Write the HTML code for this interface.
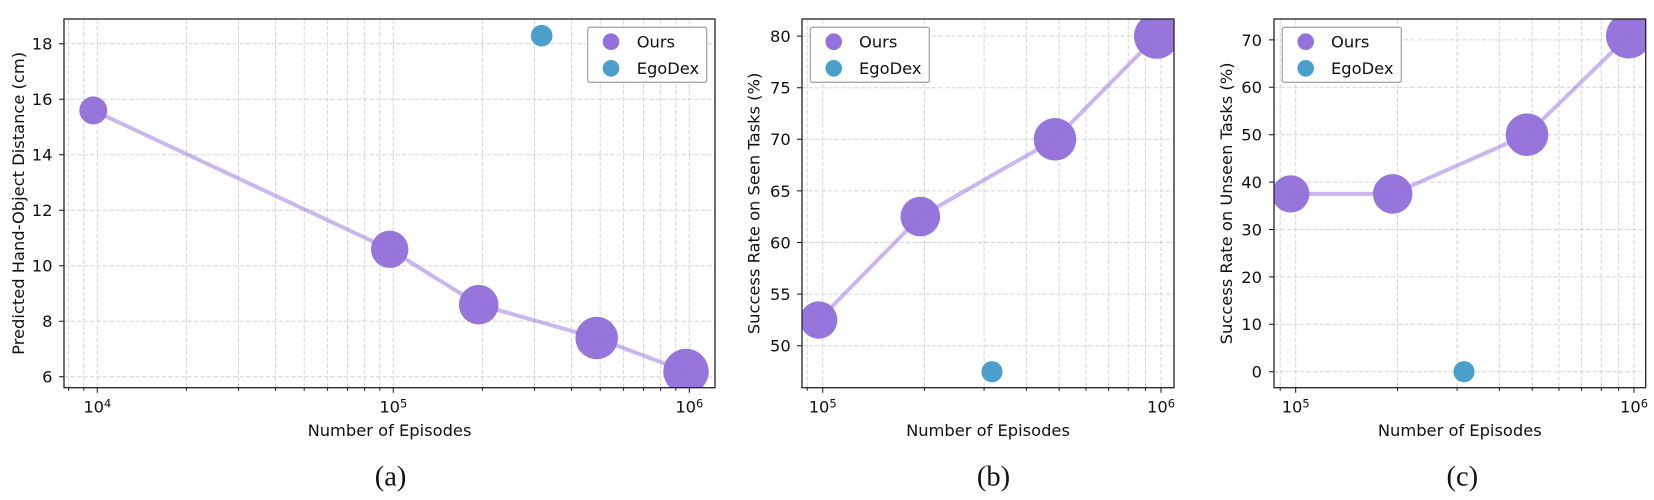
<!DOCTYPE html>
<html><head><meta charset="utf-8"><style>
html,body{margin:0;padding:0;background:#fff;}
svg{display:block;}
text{font-family:"DejaVu Sans","Liberation Sans",sans-serif;fill:#111;}
.t{font-size:16.3px;}
.cap{font-family:"Liberation Serif","DejaVu Serif",serif;font-size:28.5px;fill:#111;}
</style></head><body>
<svg width="1654" height="500" viewBox="0 0 1654 500" xmlns="http://www.w3.org/2000/svg">
<defs>
<clipPath id="ca"><rect x="64" y="19" width="651" height="368.7"/></clipPath>
<clipPath id="cb"><rect x="802" y="19" width="372" height="368.7"/></clipPath>
<clipPath id="cc"><rect x="1274" y="19" width="371.7" height="368.7"/></clipPath>
</defs>
<rect width="1654" height="500" fill="#fff"/>

<!-- ===== Panel (a) ===== -->
<g stroke="#d6d6d6" stroke-width="1" stroke-dasharray="4.5,2" fill="none">
<path d="M68.6 19V387.7M83.8 19V387.7M97.3 19V387.7M186.4 19V387.7M238.5 19V387.7M275.5 19V387.7M304.2 19V387.7M327.6 19V387.7M347.5 19V387.7M364.6 19V387.7M379.8 19V387.7M393.3 19V387.7M482.4 19V387.7M534.5 19V387.7M571.5 19V387.7M600.2 19V387.7M623.6 19V387.7M643.5 19V387.7M660.6 19V387.7M675.8 19V387.7M689.3 19V387.7"/>
<path d="M64 376.8H715M64 321.3H715M64 265.8H715M64 210.3H715M64 154.8H715M64 99.3H715M64 43.8H715"/>
</g>
<g clip-path="url(#ca)">
<g fill="#9370DB" fill-opacity="0.96">
<circle cx="93.3" cy="110.4" r="14"/>
<circle cx="389.7" cy="249.3" r="18.7"/>
<circle cx="478.7" cy="304.7" r="19.8"/>
<circle cx="596.7" cy="338" r="21.3"/>
<circle cx="686" cy="371.5" r="22.7"/>
</g>
<polyline points="93.3,110.4 389.7,249.3 478.7,304.7 596.7,338 686,371.5" fill="none" stroke="#9370DB" stroke-opacity="0.5" stroke-width="4" stroke-linecap="round" stroke-linejoin="round"/>
<circle cx="541.7" cy="35.7" r="10.8" fill="#4b9fcb"/>
</g>
<rect x="587.7" y="27.3" width="119" height="55" rx="2" fill="#fff" fill-opacity="0.9" stroke="#a8a8a8" stroke-width="1.3"/>
<circle cx="611" cy="41.7" r="8.3" fill="#9370DB"/>
<circle cx="611" cy="68.3" r="8.3" fill="#4b9fcb"/>
<text class="t" x="636.7" y="47.4">Ours</text>
<text class="t" x="636.7" y="74">EgoDex</text>
<g stroke="#111" stroke-width="1" fill="none">
<path d="M97.3 387.7v5M393.3 387.7v5M689.3 387.7v5"/>
<path d="M68.6 387.7v3M83.8 387.7v3M186.4 387.7v3M238.5 387.7v3M275.5 387.7v3M304.2 387.7v3M327.6 387.7v3M347.5 387.7v3M364.6 387.7v3M379.8 387.7v3M482.4 387.7v3M534.5 387.7v3M571.5 387.7v3M600.2 387.7v3M623.6 387.7v3M643.5 387.7v3M660.6 387.7v3M675.8 387.7v3"/>
<path d="M64 376.8h-5M64 321.3h-5M64 265.8h-5M64 210.3h-5M64 154.8h-5M64 99.3h-5M64 43.8h-5"/>
</g>
<rect x="64" y="19" width="651" height="368.7" fill="none" stroke="#222" stroke-width="1.3"/>
<g class="t" text-anchor="end">
<text x="52.5" y="382.7">6</text>
<text x="52.5" y="327.2">8</text>
<text x="52.5" y="271.7">10</text>
<text x="52.5" y="216.2">12</text>
<text x="52.5" y="160.7">14</text>
<text x="52.5" y="105.2">16</text>
<text x="52.5" y="49.7">18</text>
</g>
<g class="t" text-anchor="middle">
<text x="97.3" y="412.7">10<tspan dy="-5.4" font-size="11.4">4</tspan></text>
<text x="393.3" y="412.7">10<tspan dy="-5.4" font-size="11.4">5</tspan></text>
<text x="689.3" y="412.7">10<tspan dy="-5.4" font-size="11.4">6</tspan></text>
<text x="389.5" y="436">Number of Episodes</text>
<text transform="translate(24,203.4) rotate(-90)">Predicted Hand-Object Distance (cm)</text>
</g>
<text class="cap" x="390.6" y="485.5" text-anchor="middle">(a)</text>

<!-- ===== Panel (b) ===== -->
<g stroke="#d6d6d6" stroke-width="1" stroke-dasharray="4.5,2" fill="none">
<path d="M807.2 19V387.7M822.7 19V387.7M924.5 19V387.7M984.1 19V387.7M1026.4 19V387.7M1059.2 19V387.7M1086 19V387.7M1108.6 19V387.7M1128.2 19V387.7M1145.5 19V387.7M1161 19V387.7"/>
<path d="M802 345.7H1174M802 294.1H1174M802 242.5H1174M802 190.9H1174M802 139.3H1174M802 87.7H1174M802 36.1H1174"/>
</g>
<g clip-path="url(#cb)">
<g fill="#9370DB" fill-opacity="0.96">
<circle cx="818.7" cy="320" r="18.7"/>
<circle cx="920.3" cy="216.6" r="19.8"/>
<circle cx="1055" cy="139.3" r="21.3"/>
<circle cx="1156.7" cy="36.1" r="22.7"/>
</g>
<polyline points="818.7,320 920.3,216.6 1055,139.3 1156.7,36.1" fill="none" stroke="#9370DB" stroke-opacity="0.5" stroke-width="4" stroke-linecap="round" stroke-linejoin="round"/>
<circle cx="992" cy="371.7" r="10.6" fill="#4b9fcb"/>
</g>
<rect x="810.3" y="27.3" width="119" height="55" rx="2" fill="#fff" fill-opacity="0.9" stroke="#a8a8a8" stroke-width="1.3"/>
<circle cx="833.7" cy="41.7" r="8.3" fill="#9370DB"/>
<circle cx="833.7" cy="68.3" r="8.3" fill="#4b9fcb"/>
<text class="t" x="859" y="47.4">Ours</text>
<text class="t" x="859" y="74">EgoDex</text>
<g stroke="#111" stroke-width="1" fill="none">
<path d="M822.7 387.7v5M1161 387.7v5"/>
<path d="M807.2 387.7v3M924.5 387.7v3M984.1 387.7v3M1026.4 387.7v3M1059.2 387.7v3M1086 387.7v3M1108.6 387.7v3M1128.2 387.7v3M1145.5 387.7v3"/>
<path d="M802 345.7h-5M802 294.1h-5M802 242.5h-5M802 190.9h-5M802 139.3h-5M802 87.7h-5M802 36.1h-5"/>
</g>
<rect x="802" y="19" width="372" height="368.7" fill="none" stroke="#222" stroke-width="1.3"/>
<g class="t" text-anchor="end">
<text x="790.7" y="351.6">50</text>
<text x="790.7" y="300">55</text>
<text x="790.7" y="248.4">60</text>
<text x="790.7" y="196.8">65</text>
<text x="790.7" y="145.2">70</text>
<text x="790.7" y="93.6">75</text>
<text x="790.7" y="42">80</text>
</g>
<g class="t" text-anchor="middle">
<text x="822.7" y="412.7">10<tspan dy="-5.4" font-size="11.4">5</tspan></text>
<text x="1161" y="412.7">10<tspan dy="-5.4" font-size="11.4">6</tspan></text>
<text x="988" y="436">Number of Episodes</text>
<text transform="translate(759.5,203.4) rotate(-90)">Success Rate on Seen Tasks (%)</text>
</g>
<text class="cap" x="993.5" y="485.5" text-anchor="middle">(b)</text>

<!-- ===== Panel (c) ===== -->
<g stroke="#d6d6d6" stroke-width="1" stroke-dasharray="4.5,2" fill="none">
<path d="M1280.2 19V387.7M1295.7 19V387.7M1397.5 19V387.7M1457.1 19V387.7M1499.4 19V387.7M1532.2 19V387.7M1559 19V387.7M1581.6 19V387.7M1601.3 19V387.7M1618.6 19V387.7M1634 19V387.7"/>
<path d="M1274 371.7H1645.7M1274 324.3H1645.7M1274 276.9H1645.7M1274 229.5H1645.7M1274 182.1H1645.7M1274 134.7H1645.7M1274 87.3H1645.7M1274 39.9H1645.7"/>
</g>
<g clip-path="url(#cc)">
<g fill="#9370DB" fill-opacity="0.96">
<circle cx="1290.7" cy="193.9" r="18.7"/>
<circle cx="1392.7" cy="193.9" r="19.8"/>
<circle cx="1527" cy="134.7" r="21.3"/>
<circle cx="1628.7" cy="35.8" r="22.7"/>
</g>
<polyline points="1290.7,193.9 1392.7,193.9 1527,134.7 1628.7,35.8" fill="none" stroke="#9370DB" stroke-opacity="0.5" stroke-width="4" stroke-linecap="round" stroke-linejoin="round"/>
<circle cx="1464" cy="371.7" r="10.6" fill="#4b9fcb"/>
</g>
<rect x="1282.3" y="27.3" width="119" height="55" rx="2" fill="#fff" fill-opacity="0.9" stroke="#a8a8a8" stroke-width="1.3"/>
<circle cx="1305.7" cy="41.7" r="8.3" fill="#9370DB"/>
<circle cx="1305.7" cy="68.3" r="8.3" fill="#4b9fcb"/>
<text class="t" x="1331" y="47.4">Ours</text>
<text class="t" x="1331" y="74">EgoDex</text>
<g stroke="#111" stroke-width="1" fill="none">
<path d="M1295.7 387.7v5M1634 387.7v5"/>
<path d="M1280.2 387.7v3M1397.5 387.7v3M1457.1 387.7v3M1499.4 387.7v3M1532.2 387.7v3M1559 387.7v3M1581.6 387.7v3M1601.3 387.7v3M1618.6 387.7v3"/>
<path d="M1274 371.7h-5M1274 324.3h-5M1274 276.9h-5M1274 229.5h-5M1274 182.1h-5M1274 134.7h-5M1274 87.3h-5M1274 39.9h-5"/>
</g>
<rect x="1274" y="19" width="371.7" height="368.7" fill="none" stroke="#222" stroke-width="1.3"/>
<g class="t" text-anchor="end">
<text x="1262" y="377.6">0</text>
<text x="1262" y="330.2">10</text>
<text x="1262" y="282.8">20</text>
<text x="1262" y="235.4">30</text>
<text x="1262" y="188">40</text>
<text x="1262" y="140.6">50</text>
<text x="1262" y="93.2">60</text>
<text x="1262" y="45.8">70</text>
</g>
<g class="t" text-anchor="middle">
<text x="1295.7" y="412.7">10<tspan dy="-5.4" font-size="11.4">5</tspan></text>
<text x="1634" y="412.7">10<tspan dy="-5.4" font-size="11.4">6</tspan></text>
<text x="1459.8" y="436">Number of Episodes</text>
<text transform="translate(1232,203.4) rotate(-90)">Success Rate on Unseen Tasks (%)</text>
</g>
<text class="cap" x="1462.3" y="485.5" text-anchor="middle">(c)</text>
</svg>
</body></html>
